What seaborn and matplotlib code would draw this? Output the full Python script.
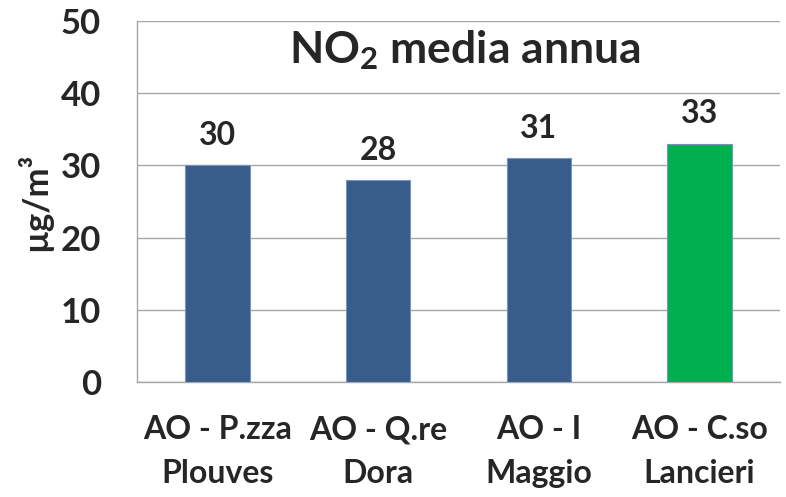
import matplotlib
matplotlib.use("Agg")
import matplotlib.pyplot as plt
import seaborn as sns

# data
stations = ["AO - P.zza\nPlouves", "AO - Q.re\nDora", "AO - I\nMaggio", "AO - C.so\nLancieri"]
no2_values = [30, 28, 31, 33]
bar_colors = ["#385D8A", "#385D8A", "#385D8A", "#00B050"]
y_ticks = [0, 10, 20, 30, 40, 50]

sns.set_style("white")
plt.rcParams["font.family"] = ["Lato", "DejaVu Sans"]
plt.rcParams["font.weight"] = "bold"
plt.rcParams["mathtext.fontset"] = "custom"
plt.rcParams["mathtext.rm"] = "Lato:bold"
plt.rcParams["mathtext.default"] = "rm"

GRID = "#A6A6A6"

fig = plt.figure(figsize=(7.86, 4.97), dpi=100)
ax = fig.add_axes([137 / 786, (497 - 382) / 497, (780 - 137) / 786, (382 - 21) / 497])

sns.barplot(x=stations, y=no2_values, hue=stations, palette=bar_colors,
            saturation=1, width=0.4, legend=False, ax=ax,
            edgecolor="#7394C4", linewidth=0.8, zorder=3)

ax.set_ylim(0, 50)
ax.set_xlim(-0.5, 3.5)
ax.set_yticks(y_ticks)
ax.yaxis.grid(True, color=GRID, linewidth=1.0, zorder=0)
ax.set_axisbelow(True)

for side in ["top", "right"]:
    ax.spines[side].set_visible(False)
for side in ["left", "bottom"]:
    ax.spines[side].set_color(GRID)
    ax.spines[side].set_linewidth(1.0)

ax.tick_params(axis="y", length=9, width=1.0, color=GRID, pad=17, labelsize=25)
ax.tick_params(axis="x", which="major", length=0, pad=24, labelsize=23)
ax.set_xticks([-0.5, 0.5, 1.5, 2.5, 3.5], minor=True)
ax.tick_params(axis="x", which="minor", length=8, width=1.0, color=GRID)
for lbl in ax.get_xticklabels():
    lbl.set_linespacing(1.6)

for container in ax.containers:
    ax.bar_label(container, fmt="%d", padding=11, fontsize=23, fontweight="bold")

ax.text(0.51, 0.92, r"NO$_2$ media annua", transform=ax.transAxes,
        ha="center", va="center", fontsize=32, fontweight="bold")

ax.set_xlabel("")
ax.set_ylabel("µg/m³", fontsize=25, fontweight="bold", labelpad=6)

fig.savefig("out.png", dpi=100)
